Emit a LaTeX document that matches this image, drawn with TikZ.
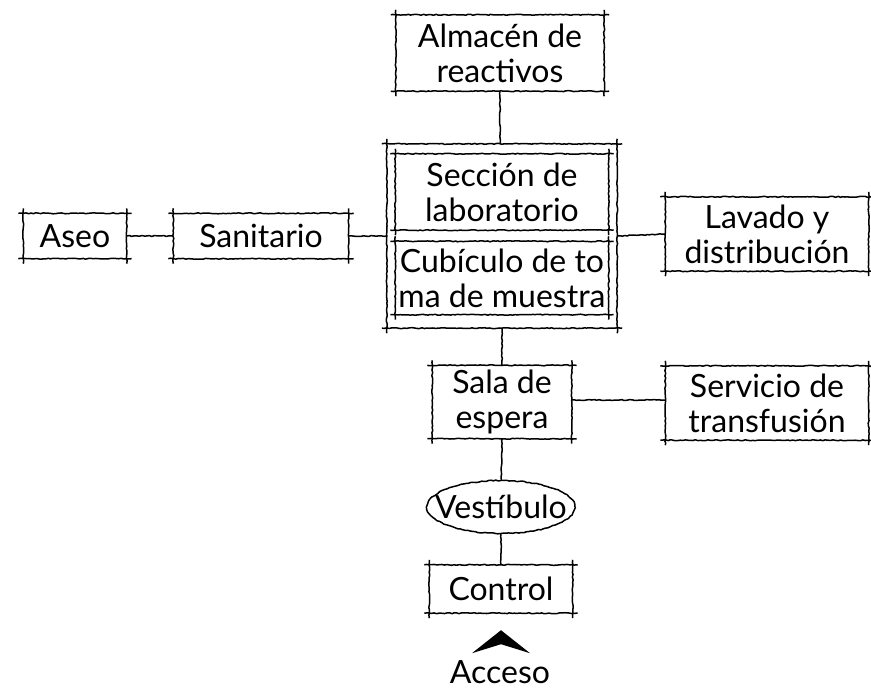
\documentclass[tikz,border=0pt]{standalone}
\usepackage{fontspec}
\setmainfont{Lato}
\usetikzlibrary{decorations.pathmorphing,shapes.geometric}
\tikzset{
  sk/.style={draw=black, line width=1.5pt, line join=round, decorate,
    decoration={random steps, segment length=2.5pt, amplitude=0.5pt}},
  room/.style={rectangle, inner sep=0pt, align=center,
    font=\fontsize{32}{35}\selectfont},
  link/.style={sk},
}
\newcommand\skbox[2][5]{%
  \draw[sk] ([xshift=-#1pt]#2.north west) -- ([xshift=#1pt]#2.north east);
  \draw[sk] ([xshift=-#1pt]#2.south west) -- ([xshift=#1pt]#2.south east);
  \draw[sk] ([yshift=#1pt]#2.north west) -- ([yshift=-#1pt]#2.south west);
  \draw[sk] ([yshift=#1pt]#2.north east) -- ([yshift=-#1pt]#2.south east);
}
\begin{document}
\begin{tikzpicture}[x=1pt,y=-1pt]
\pgfmathsetseed{7}
\fill[white] (0,0) rectangle (871,692);
\useasboundingbox (0,0) rectangle (871,692);

\node[room, minimum width=208, minimum height=76] (alm) at (500,53) {Almacén de\\reactivos};
\node[room, minimum width=230, minimum height=184] (outer) at (502,236) {};
\node[room, minimum width=213, minimum height=76] (sec) at (502,192) {Sección de\\laboratorio};
\node[room, minimum width=213, minimum height=73] (cub) at (502,278) {Cubículo de to\\ma de muestra};
\node[room, minimum width=103, minimum height=45] (aseo) at (75,236) {Aseo};
\node[room, minimum width=175, minimum height=45] (sani) at (261,236) {Sanitario};
\node[room, minimum width=203, minimum height=74] (lav) at (767,234) {Lavado y\\distribución};
\node[room, minimum width=139, minimum height=73] (sala) at (502,402) {Sala de\\espera};
\node[room, minimum width=203, minimum height=74] (serv) at (767,403) {Servicio de\\transfusión};
\node[room, ellipse, inner sep=0pt, minimum width=148, minimum height=53, sk] (vest) at (501,507) {\makebox[0pt]{Vestíbulo}};
\node[room, minimum width=143, minimum height=48] (ctrl) at (501,589) {Control};
\node[room] (acc) at (500,672) {Acceso};

\foreach \n in {alm,outer,sec,cub,aseo,sani,lav,sala,serv,ctrl}{\skbox{\n}}

\draw[link] (alm.south) -- (outer.north -| alm.south);
\draw[link] (aseo.east) -- (sani.west);
\draw[link] (sani.east) -- (outer.west);
\draw[link] (outer.east) -- (lav.west);
\draw[link] (outer.south -| sala.north) -- (sala.north);
\draw[link] (sala.east) ++(0,-2) -- (serv.west |- 0,400);
\draw[link] (sala.south) -- (vest.north);
\draw[link] (vest.south) -- (ctrl.north);

\coordinate (tip) at ([yshift=-17pt]ctrl.south);
\fill (tip) -- ++(-29,23) -- ++(29,-9) -- ++(29,9) -- cycle;
\end{tikzpicture}
\end{document}
